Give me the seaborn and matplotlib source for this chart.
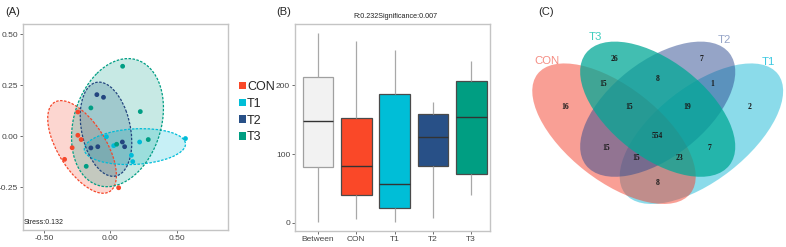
import numpy as np
import pandas as pd
import matplotlib
matplotlib.use('Agg')
import matplotlib.pyplot as plt
from matplotlib.patches import Ellipse, Patch
import seaborn as sns

sns.set_theme(style='white')
plt.rcParams['font.family'] = ['Liberation Sans', 'DejaVu Sans']
plt.rcParams['axes.unicode_minus'] = False

# ---- (A) NMDS scores ----
groups = ['CON', 'T1', 'T2', 'T3']
con_x = [-0.245, -0.288, -0.345, -0.220, -0.245, 0.062]
con_y = [0.119, -0.056, -0.113, -0.016, 0.005, -0.252]
t1_x = [-0.030, 0.025, 0.220, 0.158, 0.168, 0.565]
t1_y = [-0.002, -0.046, -0.028, -0.093, -0.124, -0.011]
t2_x = [-0.102, -0.052, -0.147, -0.095, 0.090, 0.107]
t2_y = [0.204, 0.191, -0.057, -0.051, -0.028, -0.051]
t3_x = [0.092, -0.147, 0.225, 0.285, 0.047, -0.182]
t3_y = [0.343, 0.139, 0.121, -0.016, -0.039, -0.147]
stress = 0.132

# ---- (B) ANOSIM rank distances ----
box_groups = ['Between', 'CON', 'T1', 'T2', 'T3']
box_min = [1.5, 6, 0.5, 7, 40]
box_q1 = [81, 40, 22, 82, 71]
box_med = [148, 82, 57, 125, 154]
box_q3 = [212, 153, 187, 159, 206]
box_max = [276, 265, 251, 176, 235]
anosim_r = 0.232
anosim_p = 0.007

# ---- (C) Venn counts ----
venn_counts = [26, 7, 15, 8, 1, 16, 15, 19, 2, 554, 15, 7, 15, 23, 8]

pal = {'CON': '#F5472B', 'T1': '#00BCD8', 'T2': '#23457F', 'T3': '#009E84'}
box_pal = {'Between': '#F2F2F2', 'CON': '#FA4828', 'T1': '#00BED7',
           'T2': '#285087', 'T3': '#009E82'}

dfA = pd.DataFrame({
    'x': con_x + t1_x + t2_x + t3_x,
    'y': con_y + t1_y + t2_y + t3_y,
    'group': sum([[g] * 6 for g in groups], []),
})

rows = []
for i, g in enumerate(box_groups):
    for v in [box_min[i], box_q1[i], box_med[i], box_q3[i], box_max[i]]:
        rows.append({'group': g, 'value': v})
dfB = pd.DataFrame(rows)


def conf_ellipse(x, y, level=0.81, **kw):
    cov = np.cov(x, y)
    vals, vecs = np.linalg.eigh(cov)
    k = np.sqrt(-2 * np.log(1 - level))
    ang = np.degrees(np.arctan2(vecs[1, 1], vecs[0, 1]))
    return Ellipse((np.mean(x), np.mean(y)), 2 * k * np.sqrt(vals[1]),
                   2 * k * np.sqrt(vals[0]), angle=ang, **kw)


fig = plt.figure(figsize=(7.86, 2.47), dpi=100)
axA = fig.add_axes([23 / 786, 1 - 230 / 247, 204.7 / 786, 206 / 247])
axB = fig.add_axes([295 / 786, 1 - 230.7 / 247, 195 / 786, 206.7 / 247])
axC = fig.add_axes([520 / 786, 0, 266 / 786, 1])

# ============ (A) ============
for g in groups:
    sub = dfA[dfA['group'] == g]
    axA.add_patch(conf_ellipse(sub['x'], sub['y'], facecolor=pal[g],
                               alpha=0.22, edgecolor='none', zorder=1))
    axA.add_patch(conf_ellipse(sub['x'], sub['y'], fill=False,
                               edgecolor=pal[g], lw=0.9, ls=(0, (2, 1.2)),
                               zorder=2))
sns.scatterplot(data=dfA, x='x', y='y', hue='group', palette=pal, s=12,
                edgecolor='none', legend=False, ax=axA, zorder=3)
axA.set_xlim(-0.658, 0.883)
axA.set_ylim(-0.459, 0.55)
axA.set_xticks([-0.5, 0, 0.5])
axA.set_xticklabels(['-0.50', '0.00', '0.50'])
axA.set_yticks([-0.25, 0, 0.25, 0.5])
axA.set_yticklabels(['-0.25', '0.00', '0.25', '0.50'])
axA.set_xlabel('')
axA.set_ylabel('')
axA.text(0.003, 0.034, f'Stress:{stress}', transform=axA.transAxes,
         fontsize=5, va='center', ha='left', color='#222222')

fig.legend(handles=[Patch(facecolor=box_pal[g], edgecolor='none') for g in groups],
           labels=groups, loc='upper left', bbox_to_anchor=(239 / 786, 1 - 81 / 247),
           frameon=False, fontsize=9, handlelength=0.55, handleheight=0.55,
           handletextpad=0.1, labelspacing=0.38, borderpad=0, borderaxespad=0)

# ============ (B) ============
sns.boxplot(data=dfB, x='group', y='value', hue='group', order=box_groups,
            palette=box_pal, saturation=1, whis=(0, 100), width=0.8,
            linewidth=0.9, linecolor='#4A4A4A', showcaps=False, legend=False,
            ax=axB, whiskerprops={'color': '#A8A8A8', 'linewidth': 0.9},
            medianprops={'color': '#333333', 'linewidth': 1.0})
axB.patches[0].set_edgecolor('#A0A0A0')
axB.set_xlim(-0.60, 4.49)
axB.set_ylim(-11.7, 289.4)
axB.set_yticks([0, 100, 200])
axB.set_xlabel('')
axB.set_ylabel('')
axB.text(0.517, 1.035, f'R:{anosim_r}Significance:{anosim_p}',
         transform=axB.transAxes, ha='center', va='center', fontsize=5.2,
         color='#222222')

for ax in (axA, axB):
    for s in ax.spines.values():
        s.set_color('#C4C4C4')
        s.set_linewidth(1.0)
    ax.tick_params(axis='both', length=2, width=0.6, color='#555555',
                   labelsize=6, labelcolor='#444444', pad=1.5, direction='out')
    ax.tick_params(bottom=True, left=True)

# ============ (C) ============
venn_sets = ['T1', 'CON', 'T2', 'T3']
venn_fill = {'CON': '#F5412D', 'T1': '#19B9D7', 'T2': '#2D4B91', 'T3': '#00A896'}
venn_alpha = {'CON': 0.5, 'T1': 0.5, 'T2': 0.5, 'T3': 0.74}
venn_geom = {'CON': (614.0, 133.7, 97, 47, 38), 'T1': (701.4, 133.7, 97, 47, -38),
             'T3': (657.7, 109.2, 91, 48, 38), 'T2': (657.7, 109.2, 91, 48, -38)}
for g in venn_sets:
    cx, cy, a, b, ang = venn_geom[g]
    axC.add_patch(Ellipse((cx, cy), 2 * a, 2 * b, angle=ang,
                          facecolor=venn_fill[g], alpha=venn_alpha[g],
                          edgecolor='none'))
venn_xy = [(614.3, 59), (701.7, 59), (602.7, 84.3), (657.7, 79), (712.7, 84.3),
           (565.7, 107.3), (629, 107.3), (687.3, 107.3), (750, 107.3),
           (657.7, 135.7), (605.7, 147.7), (710, 147.7), (636, 157.7),
           (679.3, 157.7), (657.7, 183.3)]
for n, (x, y) in zip(venn_counts, venn_xy):
    axC.text(x, y, str(n), ha='center', va='center', fontsize=5.5,
             family=['Liberation Serif', 'DejaVu Serif'], fontweight='bold',
             color='#1A1A1A')
venn_label_xy = {'CON': (546.7, 61), 'T3': (595.5, 36.7),
                 'T2': (724, 40), 'T1': (768.5, 62)}
venn_label_col = {'CON': '#F58C82', 'T3': '#40CDBE', 'T2': '#96A5C8', 'T1': '#3CC8E1'}
for g, (x, y) in venn_label_xy.items():
    axC.text(x, y, g, ha='center', va='center', fontsize=8.2,
             color=venn_label_col[g])
axC.set_xlim(520, 786)
axC.set_ylim(247, 0)
axC.axis('off')

fig.text(5 / 786, 1 - 12 / 247, '(A)', fontsize=8, va='center', ha='left')
fig.text(276.7 / 786, 1 - 12 / 247, '(B)', fontsize=8, va='center', ha='left')
fig.text(538 / 786, 1 - 12 / 247, '(C)', fontsize=8, va='center', ha='left')

fig.savefig('out.png', dpi=100)
